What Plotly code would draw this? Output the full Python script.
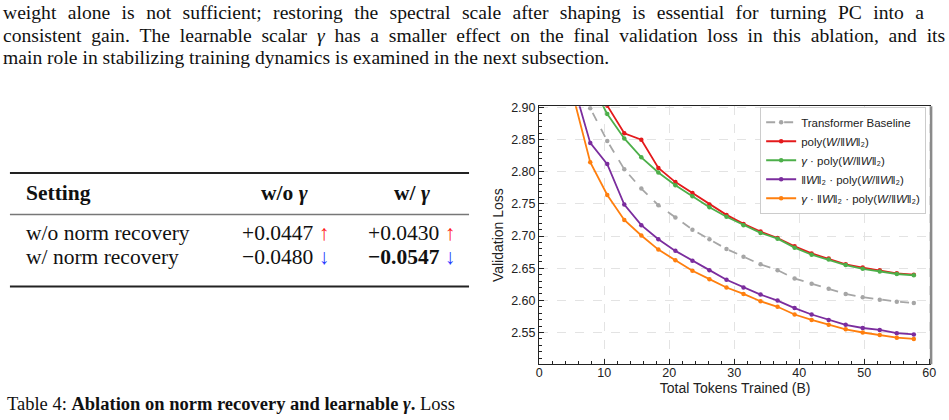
import plotly.graph_objects as go

W, H = 949, 420

# ---------------- data ----------------
tokens = [5.24, 7.86, 10.48, 13.10, 15.72, 18.34, 20.96, 23.58, 26.20, 28.82, 31.44,
          34.06, 36.68, 39.30, 41.92, 44.54, 47.16, 49.78, 52.40, 55.02, 57.64]

baseline = [2.970, 2.899, 2.848, 2.804, 2.774, 2.748, 2.729, 2.710, 2.695, 2.680, 2.668,
            2.656, 2.647, 2.634, 2.626, 2.618, 2.610, 2.605, 2.601, 2.598, 2.596]
poly = [None, None, 2.903, 2.860, 2.850, 2.806, 2.784, 2.767, 2.749, 2.733, 2.719,
        2.707, 2.697, 2.684, 2.673, 2.665, 2.656, 2.651, 2.647, 2.642, 2.640]
gamma_poly = [None, 2.940, 2.890, 2.852, 2.8225, 2.799, 2.779, 2.762, 2.745, 2.730, 2.717,
              2.705, 2.696, 2.682, 2.671, 2.6635, 2.655, 2.649, 2.645, 2.641, 2.639]
norm_poly = [2.937, 2.845, 2.812, 2.749, 2.717, 2.695, 2.677, 2.6615, 2.647, 2.632, 2.620,
             2.609, 2.5996, 2.588, 2.578, 2.5695, 2.562, 2.557, 2.554, 2.549, 2.547]
gamma_norm_poly = [2.918, 2.815, 2.764, 2.725, 2.701, 2.679, 2.6625, 2.646, 2.633, 2.620, 2.610,
                   2.5986, 2.590, 2.578, 2.5695, 2.562, 2.555, 2.550, 2.546, 2.542, 2.540]

series_names = [
    "Transformer Baseline",
    "poly(<i>W</i>/‖<i>W</i>‖₂)",
    "<i>γ</i> · poly(<i>W</i>/‖<i>W</i>‖₂)",
    "‖<i>W</i>‖₂ · poly(<i>W</i>/‖<i>W</i>‖₂)",
    "<i>γ</i> · ‖<i>W</i>‖₂ · poly(<i>W</i>/‖<i>W</i>‖₂)",
]
series_values = [baseline, poly, gamma_poly, norm_poly, gamma_norm_poly]
series_colors = ["#a6a6a6", "#e41a1c", "#4daf4a", "#7b2d9e", "#ff7f0e"]
series_dash = ["dash", "solid", "solid", "solid", "solid"]

x_ticks = [0, 10, 20, 30, 40, 50, 60]
y_ticks = [2.55, 2.60, 2.65, 2.70, 2.75, 2.80, 2.85, 2.90]

para_lines = [
    "weight alone is not sufficient; restoring the spectral scale after shaping is essential for turning PC into a",
    "consistent gain. The learnable scalar <i>γ</i> has a smaller effect on the final validation loss in this ablation, and its",
    "main role in stabilizing training dynamics is examined in the next subsection.",
]
para_gap = [" \u2005\u200a", " \u2005", " "]

table_header = ["Setting", "w/o <i>γ</i>", "w/ <i>γ</i>"]
table_rows = ["w/o norm recovery", "w/ norm recovery"]
col_wo_gamma = ["+0.0447", "−0.0480"]
col_w_gamma = ["+0.0430", "−0.0547"]
arrows = ["↑", "↓"]
arrow_colors = ["#ff1a1a", "#2a3cff"]

caption = "Table 4: <b>Ablation on norm recovery and learnable <i>γ</i>.</b> Loss"

# ---------------- helpers ----------------
def px(x):
    return x / W

def py(y):
    return 1 - y / H

SERIF = "Liberation Serif"
SANS = "Liberation Sans"

fig = go.Figure()

for name, vals, col, dash in zip(series_names, series_values, series_colors, series_dash):
    fig.add_trace(go.Scatter(
        x=tokens, y=vals, name=name, mode="lines+markers",
        line=dict(color=col, width=1.8, dash=dash),
        marker=dict(color=col, size=4.5),
        connectgaps=False,
    ))

ann = []
# paragraph
para_y = [8, 31, 53]
for line, yy, gap in zip(para_lines, para_y, para_gap):
    words = line.split(" ")
    txt = gap.join(words)
    ann.append(dict(text=txt, x=px(-2), y=py(yy), xref="paper", yref="paper",
                    xanchor="left", yanchor="middle", showarrow=False,
                    font=dict(family=SERIF, size=19.6, color="#111")))

TF = 21.5
# table header
hdr_y = 190
ann.append(dict(text="<b>%s</b>" % table_header[0], x=px(21), y=py(hdr_y), xref="paper", yref="paper",
                xanchor="left", yanchor="middle", showarrow=False,
                font=dict(family=SERIF, size=TF, color="#111")))
for txt, cx in zip(table_header[1:], [284, 412]):
    ann.append(dict(text="<b>%s</b>" % txt, x=px(cx), y=py(hdr_y), xref="paper", yref="paper",
                    xanchor="center", yanchor="middle", showarrow=False,
                    font=dict(family=SERIF, size=TF, color="#111")))

row_y = [231, 255]
for i, (rname, a, b) in enumerate(zip(table_rows, col_wo_gamma, col_w_gamma)):
    ann.append(dict(text=rname, x=px(21), y=py(row_y[i]), xref="paper", yref="paper",
                    xanchor="left", yanchor="middle", showarrow=False,
                    font=dict(family=SERIF, size=TF, color="#111")))
    arr = "<span style='color:%s'>%s</span>" % (arrow_colors[i], arrows[i])
    ta = "%s %s" % (a, arr)
    tb = ("<b>%s</b> %s" % (b, arr)) if i == 1 else ("%s %s" % (b, arr))
    ann.append(dict(text=ta, x=px(285), y=py(row_y[i]), xref="paper", yref="paper",
                    xanchor="center", yanchor="middle", showarrow=False,
                    font=dict(family=SERIF, size=TF, color="#111")))
    ann.append(dict(text=tb, x=px(412), y=py(row_y[i]), xref="paper", yref="paper",
                    xanchor="center", yanchor="middle", showarrow=False,
                    font=dict(family=SERIF, size=TF, color="#111")))

ann.append(dict(text=caption, x=px(2), y=py(404), xref="paper", yref="paper",
                xanchor="left", yanchor="middle", showarrow=False,
                font=dict(family=SERIF, size=18.5, color="#111")))

shapes = [
    dict(type="line", xref="paper", yref="paper", x0=px(7), x1=px(470), y0=py(170), y1=py(170),
         line=dict(color="#222", width=2)),
    dict(type="line", xref="paper", yref="paper", x0=px(7), x1=px(470), y0=py(212), y1=py(212),
         line=dict(color="#777", width=1.5)),
    dict(type="line", xref="paper", yref="paper", x0=px(7), x1=px(470), y0=py(285), y1=py(285),
         line=dict(color="#222", width=2)),
    dict(type="line", xref="paper", yref="paper", x0=px(936), x1=px(936), y0=py(102.5), y1=py(363.5),
         line=dict(color="#8a8a8a", width=2.5)),
]

fig.update_layout(
    width=W, height=H,
    margin=dict(l=0, r=0, t=0, b=0),
    paper_bgcolor="white", plot_bgcolor="white",
    annotations=ann, shapes=shapes,
    showlegend=True,
    legend=dict(x=px(931), y=py(103), xanchor="right", yanchor="top",
                bgcolor="white", bordercolor="#cccccc", borderwidth=1,
                font=dict(family=SANS, size=11.5, color="#222"),
                itemwidth=30, tracegroupgap=0),
    xaxis=dict(domain=[px(540.7), px(936)], range=[0, 60.3],
               tickvals=x_ticks, ticks="inside", ticklen=5, tickcolor="#222",
               showline=True, linecolor="#222", linewidth=1.3, mirror=True,
               showgrid=True, gridcolor="#e3e3e3", griddash="dash", gridwidth=1,
               zeroline=False, ticklabelstandoff=-3,
               minor=dict(ticks="inside", dtick=2, ticklen=3, tickcolor="#222", showgrid=False),
               tickfont=dict(family=SANS, size=12.5, color="#222"),
               title=dict(text="Total Tokens Trained (B)", standoff=0,
                          font=dict(family=SANS, size=14, color="#222"))),
    yaxis=dict(domain=[py(363.3), py(102.5)], range=[2.501, 2.902],
               tickvals=y_ticks, tickformat=".2f", ticks="inside", ticklen=5, tickcolor="#222",
               showline=True, linecolor="#222", linewidth=1.3, mirror=False,
               showgrid=True, gridcolor="#e3e3e3", griddash="dash", gridwidth=1,
               zeroline=False,
               minor=dict(ticks="inside", dtick=0.01, ticklen=3, tickcolor="#222", showgrid=False),
               tickfont=dict(family=SANS, size=12.5, color="#222"),
               title=dict(text="Validation Loss", standoff=4,
                          font=dict(family=SANS, size=14, color="#222"))),
)

fig.write_html("out.html")
